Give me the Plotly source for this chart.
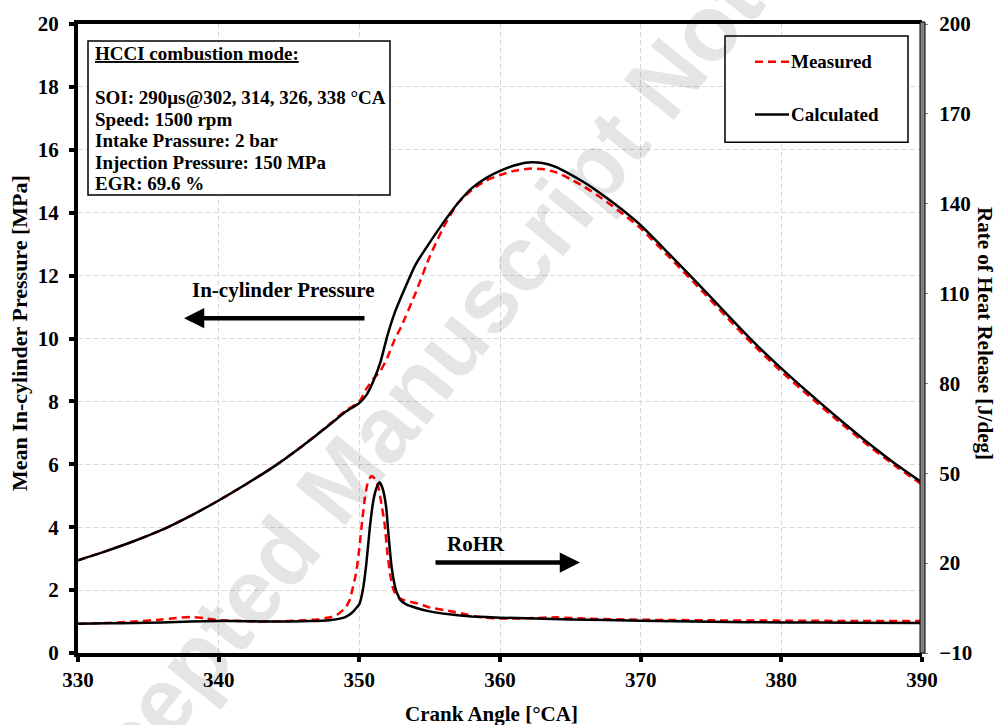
import plotly.graph_objects as go

# ---------------- data ----------------
ca_p = [330, 332, 334, 336, 338, 340, 342, 344, 346, 348, 349, 350, 350.5, 351, 351.5, 352, 352.5, 353,
        354, 355, 356, 357, 358, 359, 360, 361, 362, 363, 364, 365, 366, 367, 368, 369, 370, 372, 374,
        376, 378, 380, 382, 384, 386, 388, 390]
p_calc = [2.95, 3.24, 3.56, 3.92, 4.36, 4.85, 5.38, 5.95, 6.6, 7.3, 7.66, 7.95, 8.2, 8.65, 9.25, 10.1,
          10.8, 11.35, 12.35, 13.05, 13.7, 14.3, 14.78, 15.1, 15.33, 15.5, 15.6, 15.58, 15.45, 15.22,
          14.96, 14.66, 14.33, 13.98, 13.6, 12.7, 11.78, 10.83, 9.9, 9.05, 8.25, 7.48, 6.74, 6.05, 5.42]
p_meas = [2.95, 3.24, 3.56, 3.92, 4.36, 4.85, 5.38, 5.95, 6.6, 7.32, 7.7, 8.0, 8.4, 8.72, 8.97, 9.4,
          9.95, 10.4, 11.45, 12.6, 13.55, 14.3, 14.72, 15.02, 15.2, 15.33, 15.4, 15.39, 15.28, 15.07,
          14.82, 14.53, 14.21, 13.87, 13.5, 12.6, 11.68, 10.73, 9.8, 8.95, 8.16, 7.39, 6.66, 5.98, 5.35]

ca_r_calc = [330, 332, 334, 336, 338, 340, 342, 344, 346, 347, 348, 349, 349.5, 350, 350.25, 350.5,
             350.75, 351, 351.25, 351.45, 351.65, 351.9, 352.1, 352.3, 352.6, 352.9, 353.3, 354, 355,
             356.4, 358, 360, 365, 370, 375, 380, 385, 390]
r_calc = [-0.2, -0.1, 0.0, 0.2, 0.5, 0.7, 0.6, 0.5, 0.6, 0.7, 1.0, 2.0, 3.5, 6.3, 11, 19.9, 32, 41,
          45.5, 47, 45, 39, 28, 18.5, 11, 7.8, 6.3, 5.1, 3.9, 2.9, 2.2, 1.8, 1.2, 0.8, 0.4, 0.2, 0.1, 0.0]

ca_r_meas = [330, 332, 334, 336, 337, 338, 339, 340, 342, 344, 346, 347, 348, 348.5, 349, 349.3, 349.6,
             349.8, 350, 350.2, 350.4, 350.6, 350.85, 351.1, 351.35, 351.6, 351.8, 352, 352.2, 352.4,
             352.7, 353.2, 354, 355, 356.4, 357.5, 358.5, 360, 362, 364, 366, 370, 375, 380, 385, 390]
r_meas = [-0.2, 0.0, 0.5, 1.2, 1.7, 2.0, 1.6, 1.0, 0.6, 0.5, 0.9, 1.2, 2.0, 3.0, 5.0, 7.5, 13, 17.5,
          25, 34, 42, 47, 49.1, 48.2, 45.5, 39, 33, 23, 16, 11.5, 8.7, 7.6, 6.7, 5.2, 4.0, 3.0, 2.0,
          1.5, 1.6, 1.9, 1.5, 1.1, 0.9, 0.8, 0.7, 0.7]

x_ticks = [330, 340, 350, 360, 370, 380, 390]
y_ticks = [0, 2, 4, 6, 8, 10, 12, 14, 16, 18, 20]
y2_ticks = [-10, 20, 50, 80, 110, 140, 170, 200]

info_lines = ["<u>HCCI combustion mode:</u>", "SOI: 290μs@302, 314, 326, 338 °CA", "Speed: 1500 rpm",
              "Intake Prassure: 2 bar", "Injection Pressure: 150 MPa", "EGR: 69.6 %"]

# ---------------- layout helpers ----------------
W, H = 997, 725
L, R, T, B = 78, 75, 20, 72
PW, PH = W - L - R, H - T - B
SERIF = "Liberation Serif"


def px(xp):
    return (xp - L) / PW


def py(yp):
    return (H - B - yp) / PH


RED = "#ff0000"
fig = go.Figure()
fig.add_trace(go.Scatter(x=ca_p, y=p_meas, mode="lines", name="Measured",
                         line=dict(color=RED, width=2.5, dash="8px,5px", shape="spline", smoothing=0.6)))
fig.add_trace(go.Scatter(x=ca_p, y=p_calc, mode="lines", name="Calculated",
                         line=dict(color="black", width=2.5, shape="spline", smoothing=0.6)))
fig.add_trace(go.Scatter(x=ca_r_meas, y=r_meas, mode="lines", yaxis="y2", showlegend=False,
                         line=dict(color=RED, width=2.5, dash="8px,5px", shape="spline", smoothing=0.4)))
fig.add_trace(go.Scatter(x=ca_r_calc, y=r_calc, mode="lines", yaxis="y2", showlegend=False,
                         line=dict(color="black", width=2.5, shape="spline", smoothing=0.4)))

tickfont = dict(family=SERIF, size=21, color="black", weight="bold")
grid = dict(showgrid=True, gridcolor="#d9d9d9", gridwidth=1, griddash="5px,3px")

fig.update_layout(
    width=W, height=H, margin=dict(l=L, r=R, t=T, b=B),
    paper_bgcolor="white", plot_bgcolor="white", showlegend=False,
    xaxis=dict(range=[330, 390], tickvals=x_ticks, ticks="outside", ticklen=5, tickwidth=4,
               tickcolor="black", showline=True, linecolor="black", linewidth=4, mirror=True,
               zeroline=False, tickfont=tickfont, **grid),
    yaxis=dict(range=[0, 20], tickvals=y_ticks, ticks="outside", ticklen=5, tickwidth=4,
               tickcolor="black", showline=True, linecolor="black", linewidth=4,
               zeroline=False, tickfont=tickfont, ticklabelstandoff=6, **grid),
    yaxis2=dict(range=[-10, 200], tickvals=y2_ticks, overlaying="y", side="right", ticks="outside",
                ticklen=5, tickwidth=1, tickcolor="#808080", showline=False, showgrid=False,
                zeroline=False, tickfont=tickfont, ticklabelstandoff=7),
)

shapes = []
# right axis bar (gray with black edges)
shapes.append(dict(type="rect", xref="paper", yref="paper", x0=px(920), x1=px(925), y0=py(653), y1=py(18),
                   fillcolor="#808080", line=dict(color="black", width=1), layer="above"))
# info box
shapes.append(dict(type="rect", xref="paper", yref="paper", x0=px(88), x1=px(390), y0=py(192), y1=py(37),
                   fillcolor="white", line=dict(color="black", width=1.5), layer="above"))
# legend box
shapes.append(dict(type="rect", xref="paper", yref="paper", x0=px(725), x1=px(908), y0=py(139), y1=py(32),
                   fillcolor="white", line=dict(color="black", width=1.5), layer="above"))
shapes.append(dict(type="line", xref="paper", yref="paper", x0=px(755), x1=px(789), y0=py(58), y1=py(58),
                   line=dict(color=RED, width=2.5, dash="8px,5px"), layer="above"))
shapes.append(dict(type="line", xref="paper", yref="paper", x0=px(755), x1=px(789), y0=py(111), y1=py(111),
                   line=dict(color="black", width=2.5), layer="above"))
fig.update_layout(shapes=shapes)

ann = []
txt = dict(family=SERIF, size=19, color="black", weight="bold")
# watermark
ann.append(dict(text="Accepted Manuscript Not Copyedited", xref="paper", yref="paper", x=px(557), y=py(210),
                xanchor="center", yanchor="middle", showarrow=False, textangle=-51,
                font=dict(family="Liberation Sans", size=93, color="rgba(0,0,0,0.1)", weight="bold")))
# info text lines
info_y = [50, 94, 116, 137, 159, 181]
for s, yy in zip(info_lines, info_y):
    ann.append(dict(text=s, xref="paper", yref="paper", x=px(93), y=py(yy), xanchor="left", yanchor="middle",
                    showarrow=False, font=txt))
# legend text
ann.append(dict(text="Measured", xref="paper", yref="paper", x=px(789), y=py(58), xanchor="left",
                yanchor="middle", showarrow=False, font=txt))
ann.append(dict(text="Calculated", xref="paper", yref="paper", x=px(789), y=py(111), xanchor="left",
                yanchor="middle", showarrow=False, font=txt))
# arrow labels
ann.append(dict(text="In-cylinder Pressure", xref="paper", yref="paper", x=px(283), y=py(288),
                xanchor="center", yanchor="middle", showarrow=False, font=dict(txt, size=21)))
ann.append(dict(text="", xref="paper", yref="paper", x=px(184), y=py(316), ax=182, ay=0, showarrow=True,
                arrowhead=2, arrowsize=0.9, arrowwidth=4.5, arrowcolor="black", standoff=0))
ann.append(dict(text="RoHR", xref="paper", yref="paper", x=px(476), y=py(543),
                xanchor="center", yanchor="middle", showarrow=False, font=dict(txt, size=21)))
ann.append(dict(text="", xref="paper", yref="paper", x=px(580), y=py(562), ax=-146, ay=0, showarrow=True,
                arrowhead=2, arrowsize=0.9, arrowwidth=4.5, arrowcolor="black", standoff=0))
# axis titles
ann.append(dict(text="Crank Angle [°CA]", xref="paper", yref="paper", x=px(491), y=py(714),
                xanchor="center", yanchor="middle", showarrow=False, font=dict(txt, size=21)))
ann.append(dict(text="Mean In-cylinder Pressure [MPa]", xref="paper", yref="paper", x=px(19), y=py(331),
                xanchor="center", yanchor="middle", showarrow=False, textangle=-90, font=dict(txt, size=22)))
ann.append(dict(text="Rate of Heat Release [J/deg]", xref="paper", yref="paper", x=px(985), y=py(331),
                xanchor="center", yanchor="middle", showarrow=False, textangle=90, font=dict(txt, size=21)))
fig.update_layout(annotations=ann)

fig.write_html("out.html")
